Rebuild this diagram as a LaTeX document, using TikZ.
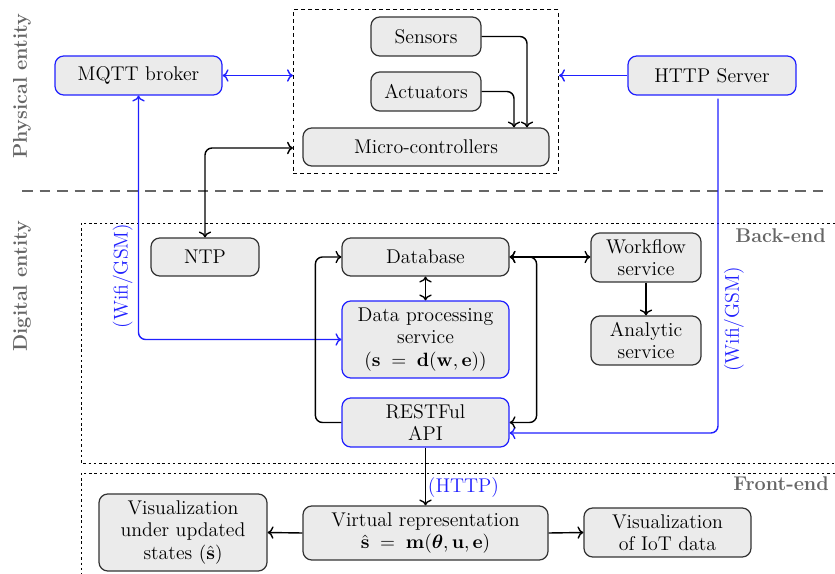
\documentclass[tikz,border=0pt]{standalone}
\usepackage{amsmath,amssymb,bm}
\usepackage{tikz}
\usetikzlibrary{arrows.meta,calc,fit,positioning}
\definecolor{FigBlue}{HTML}{2020FF}
\definecolor{FigDark}{HTML}{333333}
\definecolor{FigGray}{HTML}{666666}
\definecolor{FigFill}{HTML}{EBEBEB}
\newcommand{\DTText}{\fontsize{11.3}{12.8}\selectfont}
\newcommand{\DTLayer}{\fontsize{11.3}{12.8}\selectfont\bfseries}
\tikzset{
  dtbase/.style={
    draw=FigDark,
    fill=FigFill,
    line width=0.7pt,
    rounded corners=5pt,
    align=center,
    inner sep=1.5pt,
    text=black,
    font=\DTText
  },
  dtbox/.style={dtbase, rectangle},
  netbox/.style={dtbase, rectangle, draw=FigBlue},
  groupbox/.style={
    draw=black,
    dash pattern=on 2.2pt off 1.8pt,
    line width=0.5pt
  },
  layerline/.style={
    draw=black,
    dash pattern=on 1.4pt off 1.6pt,
    line width=0.45pt
  },
  splitline/.style={
    draw=FigGray,
    dash pattern=on 6pt off 4pt,
    line width=1.1pt
  },
  mainarrow/.style={
    ->,
    draw=black,
    line width=0.8pt,
    rounded corners=4pt
  },
  netarrow/.style={mainarrow, draw=FigBlue},
  netlabel/.style={
    text=FigBlue,
    inner sep=3pt,
    font=\DTText
  },
  layerlabel/.style={
    text=FigGray,
    font=\DTLayer
  }
}

\begin{document}
\begin{tikzpicture}[x=1cm,y=1cm]
\path[use as bounding box] (0,0) rectangle (16.7,11.48);

% physical entity
\node[netbox, minimum width=3.34cm, minimum height=0.78cm] (mqtt) at (2.77,9.97) {MQTT broker};
\node[dtbox, minimum width=2.20cm, minimum height=0.78cm] (sensors) at (8.52,10.75) {Sensors};
\node[dtbox, minimum width=2.20cm, minimum height=0.78cm] (actuators) at (8.52,9.65) {Actuators};
\node[dtbox, minimum width=4.92cm, minimum height=0.76cm] (micro) at (8.52,8.54) {Micro-controllers};
\node[groupbox, inner xsep=0.18cm, inner ysep=0.13cm, fit=(sensors)(micro)] (devices) {};
\node[netbox, minimum width=3.36cm, minimum height=0.78cm] (http) at (14.24,9.97) {HTTP Server};

\node[layerlabel, rotate=90] (physical) at (0.44,9.76) {Physical entity};
\draw[splitline] (0.44,7.66) -- (16.56,7.66);
\node[layerlabel, rotate=90] (digital) at (0.44,5.76) {Digital entity};

% back-end
\draw[layerline] (16.7,7.02) -- (1.62,7.02) -- (1.62,2.22) -- (16.7,2.22);
\node[layerlabel, anchor=east] (backend) at (16.64,6.76) {Back-end};
\node[dtbox, minimum width=2.16cm, minimum height=0.76cm] (ntp) at (4.10,6.34) {NTP};
\node[dtbox, minimum width=3.34cm, minimum height=0.76cm] (db) at (8.51,6.34) {Database};
\node[netbox, minimum width=3.34cm, minimum height=1.54cm] (dps) at (8.51,4.69)
  {Data processing\\service\\$(\mathbf{s}\;=\;\mathbf{d}(\mathbf{w},\mathbf{e}))$};
\node[netbox, minimum width=3.34cm, minimum height=0.98cm] (api) at (8.51,3.03) {RESTFul\\API};
\node[dtbox, minimum width=2.20cm, minimum height=0.98cm] (workflow) at (12.92,6.33) {Workflow\\service};
\node[dtbox, minimum width=2.20cm, minimum height=0.98cm] (analytic) at (12.92,4.67) {Analytic\\service};

% front-end
\draw[layerline] (16.7,2.02) -- (1.62,2.02) -- (1.62,0);
\node[layerlabel, anchor=east] (frontend) at (16.70,1.80) {Front-end};
\node[dtbox, minimum width=4.90cm, minimum height=1.08cm] (virtual) at (8.51,0.82)
  {Virtual representation\\$\hat{\mathbf{s}}\;=\;\mathbf{m}(\bm{\theta},\mathbf{u},\mathbf{e})$};
\node[dtbox, minimum width=3.36cm, minimum height=1.54cm] (visstate) at (3.66,0.83)
  {Visualization\\under updated\\states $(\hat{\mathbf{s}})$};
\node[dtbox, minimum width=3.34cm, minimum height=0.98cm] (visiot) at (13.35,0.83)
  {Visualization\\of IoT data};

\draw[mainarrow] (sensors.east) -| ([xshift=2.02cm]micro.north);
\draw[mainarrow] (actuators.east) -| ([xshift=1.76cm]micro.north);
\draw[netarrow, <->] (mqtt.east) -- (mqtt.east -| devices.west);
\draw[netarrow] (http.west) -- (http.west -| devices.east);
\draw[mainarrow, <->] (ntp.north) |- ([yshift=-0.02cm]devices.west |- micro.west);

\draw[netarrow, <->] (mqtt.south) |- (dps.west)
  node[netlabel, rotate=90, anchor=south, pos=0.37] {(Wifi/GSM)};
\draw[netarrow] ([xshift=0.12cm,yshift=-0.06cm]http.south) |- ([yshift=-0.21cm]api.east)
  node[netlabel, rotate=90, anchor=north, pos=0.33] {(Wifi/GSM)};

\draw[mainarrow, <->] (db.south) -- (dps.north);
\draw[mainarrow] (api.west) -- ++(-0.52,0) |- (db.west);
\draw[mainarrow, <->] (db.east) -- ++(0.54,0) |- (api.east);
\draw[mainarrow, <->] (db.east) -- (db.east -| workflow.west);
\draw[mainarrow] (workflow.south) -- (analytic.north);

\draw[mainarrow] (api.south) -- (virtual.north)
  node[netlabel, anchor=west, inner sep=1pt, pos=0.69] {(HTTP)};
\draw[mainarrow] (virtual.west) -- (visstate.east);
\draw[mainarrow] (virtual.east) -- (visiot.west);

\end{tikzpicture}
\end{document}
